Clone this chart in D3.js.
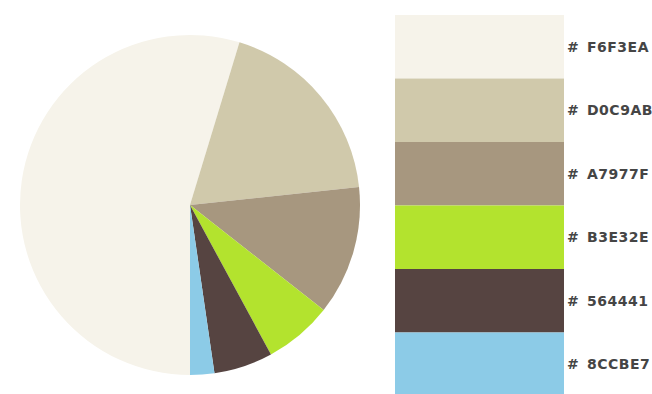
<!DOCTYPE html>
<meta charset="utf-8">
<style>

body {
  margin: 0;
  background: #fff;
}

text {
  font-family: "DejaVu Sans", sans-serif;
  font-weight: bold;
  font-size: 14px;
  fill: #454545;
}

</style>
<body>
<script src="https://cdn.jsdelivr.net/npm/d3@7"></script>
<script>

var width = 652,
    height = 394;

var colors = ["F6F3EA", "D0C9AB", "A7977F", "B3E32E", "564441", "8CCBE7"];
var shares = [54.7, 18.6, 12.3, 6.5, 5.6, 2.3];

var svg = d3.select("body").append("svg")
    .attr("width", width)
    .attr("height", height);

// pie, starting at six o'clock and running clockwise
var pie = d3.pie()
    .sort(null)
    .startAngle(Math.PI)
    .endAngle(3 * Math.PI);

var arc = d3.arc()
    .innerRadius(0)
    .outerRadius(170);

svg.append("g")
    .attr("transform", "translate(190,205)")
  .selectAll("path")
    .data(pie(shares))
  .enter().append("path")
    .attr("d", arc)
    .attr("fill", function(d, i) { return "#" + colors[i]; });

// swatches
var y = d3.scaleBand()
    .domain(colors)
    .range([15, 396]);

var row = svg.selectAll(".swatch")
    .data(colors)
  .enter().append("g")
    .attr("class", "swatch")
    .attr("transform", function(d) { return "translate(0," + y(d) + ")"; });

row.append("rect")
    .attr("x", 395)
    .attr("width", 169)
    .attr("height", y.bandwidth())
    .attr("fill", function(d) { return "#" + d; });

row.append("text")
    .attr("x", 567)
    .attr("y", y.bandwidth() / 2)
    .attr("dy", "0.35em")
    .text("#");

row.append("text")
    .attr("x", 587)
    .attr("y", y.bandwidth() / 2)
    .attr("dy", "0.35em")
    .style("letter-spacing", "0.5px")
    .text(function(d) { return d; });

</script>
